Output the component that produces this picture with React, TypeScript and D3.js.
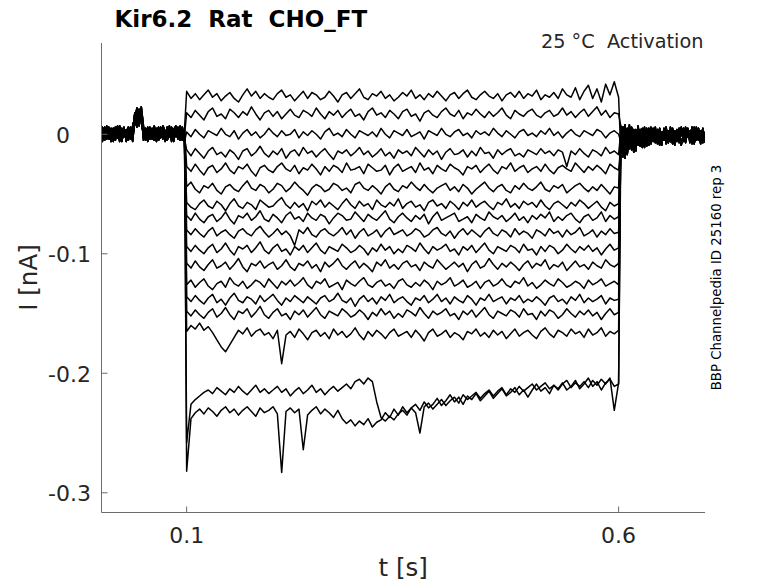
import React from 'react';
import * as d3 from 'd3';

// sampling intervals (s)
const HOLD_DT = 0.0025;
const STEP_DT = 0.005;
const STEP_ON = 0.1;
const STEP_OFF = 0.6;

// holding current before the step, pA (test pulse around 40-48 ms)
const holdPreA = [3, -4, 6, -2, 1, -6, 5, 0, -3, 7, -5, 2, -1, 6, -4, 3, 18, 8, 21, 12, -2, 5, -6, 3, -3, 7, -1, -5, 4, 0, -4, 6, -2, 3, -6, 5, -1, 2, -5, 4];
const holdPreB = [-5, 2, -1, 7, -4, 4, -3, 6, 1, -6, 5, -2, 4, -5, 6, -1, 9, 20, 7, 17, 4, -3, 6, -1, 5, -5, 2, 6, -3, 4, -6, 1, 7, -4, 2, -2, 6, -5, 3, -1];
const holdPreC = [1, 6, -5, 3, -2, 5, -6, 2, 7, -3, 0, 6, -6, 1, -2, 7, 14, 22, 10, 19, -5, 1, 4, -4, 0, 3, -6, 2, -2, 7, 3, -5, 0, 6, -3, 1, -4, 7, 0, -6];
const holdPreD = [-2, -6, 4, -4, 6, -1, 2, -5, 5, -1, -6, 4, 1, -3, 3, -6, 12, 6, 16, 23, 7, -5, 2, 6, -4, 1, 5, -3, 6, -4, 2, -2, 5, -6, 4, 7, -3, 3, 6, -4];

// holding current after the step, pA
const holdPostA = [-14, 6, -18, 3, -12, 5, -15, 2, -9, 4, -11, 3, -7, 5, -8, 1, -6, 4, -9, 2, -5, 6, -7, 1, -8, 3, -4, 5, -9, 0, -6, 4, -3, 6, -8, 2, -5, 3, -7, 1];
const holdPostB = [7, -19, 4, -16, 8, -13, 1, -12, 6, -10, 2, -8, 5, -9, 3, -6, 6, -7, 0, -5, 4, -8, 2, -6, 5, -3, 1, -7, 4, -5, 6, -2, 3, -8, 1, -4, 5, -6, 2, -3];
const holdPostC = [-6, 3, -20, 5, -9, -1, 4, -14, 7, -5, -2, 6, -10, 2, -4, 5, -7, 3, -2, -9, 5, -1, 3, -6, 2, -9, 4, -2, 6, -6, 0, 5, -7, 2, -4, 6, -1, -8, 4, -2];
const holdPostD = [2, -11, 8, -17, 0, 6, -13, 4, -7, 2, 5, -11, 0, -5, 6, -3, 2, -8, 5, -4, -1, 3, -7, 6, -2, 1, -6, 4, -1, 5, -7, 3, -4, 0, 6, -5, 2, -2, 5, -7];

// current during the voltage step (0.1 - 0.6 s), pA, one array per sweep
const sweep01 = [36, 30, 34, 29, 33, 37, 31, 34, 28, 32, 35, 30, 27, 33, 38, 32, 36, 30, 34, 31, 29, 34, 37, 31, 33, 28, 32, 36, 30, 35, 33, 29, 31, 36, 32, 27, 33, 35, 30, 34, 38, 31, 29, 34, 32, 36, 30, 33, 28, 31, 35, 32, 37, 30, 33, 29, 34, 31, 36, 32, 28, 33, 35, 30, 34, 37, 31, 29, 33, 36, 32, 30, 34, 28, 33, 35, 31, 36, 30, 34, 32, 37, 29, 33, 31, 35, 30, 38, 33, 31, 39, 29, 36, 41, 30, 38, 27, 42, 33, 44, 31];
const sweep02 = [18, 14, 20, 16, 12, 19, 22, 15, 17, 13, 21, 18, 14, 19, 16, 23, 17, 12, 18, 20, 15, 19, 13, 17, 21, 16, 14, 20, 18, 15, 22, 17, 13, 19, 16, 20, 14, 18, 21, 15, 17, 12, 19, 22, 16, 18, 14, 20, 17, 13, 19, 21, 15, 17, 11, 18, 20, 16, 14, 19, 22, 17, 15, 20, 13, 18, 16, 21, 17, 14, 19, 15, 18, 22, 16, 13, 20, 17, 15, 19, 21, 16, 14, 18, 20, 15, 17, 22, 16, 19, 14, 18, 21, 15, 19, 23, 16, 20, 14, 18, 17];
const sweep03 = [2, -2, 4, 0, -3, 3, 1, -1, 5, 0, -2, 3, -4, 1, 4, -1, 2, -3, 0, 5, 1, -2, 3, -1, 0, 4, -3, 2, -1, 3, 0, -4, 2, 5, -1, 1, -2, 4, 0, -3, 3, 1, -1, 2, -2, 5, 0, -3, 3, 1, -1, 4, -2, 0, 2, -4, 3, 1, -1, 5, 0, -2, 2, 4, -1, 1, -3, 3, 0, 2, -1, 5, 1, -2, 3, 0, -3, 2, 4, -1, 1, -2, 3, 0, 5, -1, 2, -3, 1, 4, 0, -2, 3, 1, -1, 4, 2, -3, 1, 3, 0];
const sweep04 = [-13, -18, -12, -16, -20, -14, -11, -17, -15, -19, -13, -16, -21, -14, -12, -18, -15, -10, -16, -19, -14, -17, -12, -20, -15, -13, -18, -11, -16, -14, -19, -15, -12, -17, -21, -14, -16, -13, -18, -15, -11, -17, -14, -19, -16, -12, -18, -15, -20, -13, -16, -14, -18, -11, -15, -19, -13, -17, -14, -21, -15, -12, -17, -16, -13, -19, -14, -18, -11, -16, -15, -20, -13, -17, -14, -12, -18, -16, -19, -13, -15, -17, -12, -16, -14, -18, -13, -15, -27, -14, -17, -12, -16, -19, -13, -15, -18, -11, -16, -14, -17];
const sweep05 = [-27, -31, -25, -30, -34, -28, -26, -32, -29, -24, -30, -33, -27, -29, -25, -31, -35, -28, -26, -30, -32, -27, -24, -29, -31, -26, -33, -28, -30, -25, -29, -34, -27, -31, -26, -28, -32, -24, -30, -29, -27, -33, -25, -28, -31, -30, -26, -34, -28, -25, -31, -29, -27, -32, -24, -30, -28, -33, -26, -29, -31, -25, -28, -30, -34, -27, -29, -26, -32, -28, -25, -30, -33, -27, -29, -24, -31, -28, -26, -32, -29, -27, -31, -25, -30, -33, -28, -26, -29, -31, -24, -28, -32, -27, -30, -26, -29, -33, -25, -28, -30];
const sweep06 = [-44, -40, -46, -49, -43, -45, -41, -47, -50, -44, -42, -46, -48, -43, -39, -45, -47, -42, -44, -49, -46, -41, -43, -48, -45, -40, -44, -47, -51, -45, -42, -44, -48, -46, -41, -43, -47, -45, -49, -42, -40, -45, -47, -43, -46, -50, -44, -41, -46, -48, -43, -45, -40, -44, -47, -42, -46, -49, -45, -43, -41, -47, -44, -48, -42, -45, -50, -46, -43, -40, -45, -48, -44, -42, -47, -49, -43, -46, -41, -45, -47, -44, -40, -46, -48, -43, -45, -42, -49, -46, -43, -41, -45, -48, -44, -47, -42, -46, -50, -44, -45];
const sweep07 = [-57, -61, -63, -58, -55, -60, -62, -56, -59, -64, -58, -54, -60, -62, -57, -59, -63, -55, -58, -61, -60, -56, -53, -59, -62, -57, -61, -58, -64, -56, -59, -55, -61, -57, -60, -63, -58, -54, -59, -62, -56, -60, -58, -63, -55, -59, -61, -57, -60, -54, -62, -58, -56, -61, -59, -64, -57, -55, -60, -58, -62, -56, -59, -63, -57, -60, -55, -61, -58, -56, -60, -63, -57, -59, -54, -61, -58, -62, -56, -59, -57, -61, -55, -60, -63, -58, -56, -59, -62, -57, -60, -55, -58, -62, -59, -56, -61, -64, -57, -60, -58];
const sweep08 = [-68, -72, -66, -71, -74, -69, -67, -73, -70, -65, -71, -75, -68, -70, -66, -72, -69, -64, -71, -73, -67, -70, -74, -68, -65, -71, -69, -73, -66, -70, -72, -67, -69, -75, -70, -66, -68, -72, -71, -65, -69, -73, -67, -70, -72, -68, -64, -71, -74, -69, -66, -70, -73, -68, -71, -67, -75, -69, -65, -72, -70, -68, -66, -73, -71, -69, -74, -67, -70, -72, -65, -69, -71, -68, -73, -70, -66, -72, -69, -74, -68, -71, -67, -70, -65, -73, -69, -72, -68, -66, -71, -74, -69, -67, -72, -70, -65, -73, -68, -71, -69];
const sweep09 = [-80, -84, -79, -83, -86, -81, -78, -85, -82, -80, -84, -87, -81, -79, -83, -85, -80, -77, -82, -86, -83, -79, -84, -81, -85, -93, -80, -83, -78, -84, -86, -81, -79, -83, -85, -82, -78, -84, -80, -87, -82, -79, -85, -83, -80, -86, -81, -78, -84, -82, -80, -85, -83, -79, -81, -86, -84, -80, -78, -83, -85, -81, -87, -82, -79, -84, -80, -83, -86, -81, -78, -83, -85, -80, -82, -86, -79, -84, -81, -83, -87, -80, -82, -85, -79, -83, -81, -86, -80, -84, -82, -78, -85, -83, -80, -86, -81, -84, -79, -83, -82];
const sweep10 = [-94, -98, -93, -97, -100, -95, -92, -99, -96, -91, -97, -101, -94, -96, -93, -99, -95, -90, -97, -100, -95, -92, -98, -96, -101, -94, -97, -93, -99, -95, -91, -97, -100, -94, -96, -98, -92, -95, -99, -97, -93, -96, -101, -95, -98, -92, -97, -94, -100, -96, -99, -93, -95, -98, -91, -96, -100, -94, -97, -95, -92, -98, -96, -101, -94, -97, -93, -99, -95, -91, -97, -100, -94, -96, -98, -93, -95, -99, -92, -97, -96, -101, -94, -98, -93, -95, -100, -97, -92, -96, -99, -94, -97, -93, -98, -95, -101, -96, -92, -97, -95];
const sweep11 = [-108, -112, -106, -111, -114, -109, -105, -112, -110, -107, -113, -109, -104, -111, -115, -108, -110, -106, -112, -109, -107, -113, -110, -105, -111, -114, -108, -110, -106, -112, -109, -115, -107, -111, -108, -104, -110, -113, -109, -106, -112, -108, -111, -115, -107, -110, -105, -112, -109, -113, -108, -106, -111, -109, -114, -107, -110, -112, -105, -109, -113, -110, -107, -111, -108, -115, -109, -106, -112, -110, -104, -109, -113, -108, -111, -107, -110, -114, -109, -106, -112, -108, -110, -105, -113, -109, -111, -107, -114, -110, -106, -111, -109, -113, -107, -110, -112, -105, -109, -111, -108];
const sweep12 = [-126, -122, -128, -124, -121, -127, -130, -125, -123, -128, -120, -125, -127, -123, -129, -126, -122, -124, -128, -121, -125, -129, -123, -126, -122, -127, -124, -120, -126, -129, -123, -125, -121, -128, -126, -124, -130, -122, -125, -127, -123, -120, -126, -128, -124, -122, -127, -125, -129, -123, -121, -126, -128, -124, -127, -122, -125, -130, -123, -126, -124, -120, -127, -125, -122, -128, -126, -123, -129, -124, -122, -127, -125, -121, -126, -128, -123, -125, -120, -127, -124, -129, -126, -122, -125, -127, -121, -124, -128, -126, -123, -125, -129, -122, -126, -124, -121, -127, -125, -123, -126];
const sweep13 = [-136, -140, -135, -139, -142, -137, -134, -141, -138, -143, -137, -133, -139, -141, -136, -138, -142, -135, -140, -137, -134, -139, -143, -137, -140, -135, -138, -141, -136, -139, -142, -137, -135, -140, -138, -133, -139, -141, -137, -144, -138, -135, -140, -137, -142, -136, -139, -134, -141, -138, -136, -140, -143, -137, -139, -135, -141, -138, -134, -140, -137, -142, -136, -139, -141, -135, -138, -143, -137, -139, -134, -140, -138, -136, -142, -137, -139, -135, -141, -138, -140, -136, -139, -143, -137, -135, -140, -138, -142, -136, -139, -134, -141, -137, -140, -138, -135, -142, -137, -139, -138];
const sweep14 = [-148, -152, -147, -151, -154, -149, -146, -153, -150, -145, -151, -155, -148, -150, -146, -153, -149, -144, -151, -154, -149, -146, -152, -150, -155, -148, -151, -147, -153, -149, -145, -151, -154, -148, -150, -152, -146, -149, -153, -151, -147, -150, -155, -149, -152, -146, -151, -148, -154, -150, -153, -147, -149, -152, -145, -150, -154, -148, -151, -149, -146, -152, -150, -155, -148, -151, -147, -153, -149, -145, -151, -154, -148, -150, -152, -147, -149, -153, -146, -151, -150, -155, -148, -152, -147, -149, -154, -151, -146, -150, -153, -148, -151, -147, -152, -149, -155, -150, -146, -151, -149];
const sweep15 = [-165, -160, -163, -158, -164, -161, -166, -172, -178, -182, -176, -170, -164, -167, -162, -169, -165, -163, -168, -166, -171, -164, -192, -168, -165, -170, -163, -167, -172, -166, -164, -169, -166, -171, -163, -168, -165, -170, -167, -162, -168, -172, -165, -169, -164, -167, -171, -166, -163, -169, -167, -165, -170, -164, -168, -173, -166, -163, -169, -167, -164, -170, -166, -168, -172, -165, -167, -163, -169, -166, -170, -164, -168, -165, -171, -167, -163, -169, -166, -164, -168, -171, -165, -162, -167, -170, -164, -166, -169, -163, -167, -165, -170, -163, -168, -166, -162, -169, -165, -167, -164];
const sweep16 = [-258, -226, -222, -219, -216, -214, -217, -212, -215, -218, -213, -216, -211, -215, -218, -214, -210, -216, -213, -217, -214, -211, -216, -213, -219, -215, -212, -217, -214, -210, -216, -213, -218, -214, -211, -215, -212, -209, -213, -207, -205, -209, -204, -207, -224, -237, -240, -236, -239, -234, -231, -235, -229, -233, -250, -228, -225, -230, -226, -222, -227, -223, -220, -225, -218, -222, -219, -216, -221, -217, -214, -219, -215, -212, -218, -213, -216, -211, -215, -212, -209, -214, -211, -208, -213, -210, -214, -209, -206, -212, -208, -211, -207, -212, -206, -210, -205, -209, -204, -231, -208];
const sweep17 = [-282, -238, -233, -230, -234, -229, -232, -236, -231, -228, -233, -230, -235, -231, -228, -232, -236, -229, -233, -231, -228, -234, -283, -232, -229, -233, -230, -264, -235, -231, -228, -234, -230, -233, -237, -231, -238, -242, -239, -244, -240, -243, -238, -245, -241, -239, -233, -237, -230, -235, -228, -233, -229, -226, -231, -224, -229, -226, -221, -227, -223, -218, -224, -220, -226, -219, -222, -217, -223, -219, -215, -221, -217, -213, -219, -216, -212, -218, -214, -220, -214, -209, -215, -212, -217, -210, -213, -208, -214, -211, -206, -213, -209, -204, -211, -207, -214, -208, -205, -211, -209];

const holdPre = [holdPreA, holdPreB, holdPreC, holdPreD];
const holdPost = [holdPostA, holdPostB, holdPostC, holdPostD];
const sweeps = [sweep01, sweep02, sweep03, sweep04, sweep05, sweep06, sweep07, sweep08, sweep09, sweep10, sweep11, sweep12, sweep13, sweep14, sweep15, sweep16, sweep17];

const xTicks = [0.1, 0.6];
const xTickLabels = ['0.1', '0.6'];
const yTicks = [0, -100, -200, -300];
const yTickLabels = ['0', '-0.1', '-0.2', '-0.3'];

const FONT = '"DejaVu Sans", sans-serif';
const AXIS = '#6b6b6b';
const TEXT = '#262626';

const App: React.FC = () => {
  const width = 778;
  const height = 583;
  const left = 101.3, right = 705, top = 43, bottom = 512;

  const x = d3.scaleLinear().domain([0.0012, 0.7]).range([left, right]);
  const y = d3.scaleLinear().domain([-316.1, 76.4]).range([bottom, top]);

  const preT = d3.range(holdPreA.length).map(j => j * HOLD_DT);
  const stepT = d3.range(sweep01.length).map(i => STEP_ON + i * STEP_DT);
  const postT = d3.range(holdPostA.length).map(j => STEP_OFF + (j + 1) * HOLD_DT);

  const line = d3.line<[number, number]>()
    .x(d => x(d[0]))
    .y(d => y(d[1]));

  const paths = sweeps.map((s, k) => {
    const pre = holdPre[k % 4];
    const post = holdPost[k % 4];
    const pts: [number, number][] = [
      ...pre.map((v, j) => [preT[j], v] as [number, number]),
      ...s.map((v, i) => [stepT[i], v] as [number, number]),
      ...post.map((v, j) => [postT[j], v] as [number, number]),
    ];
    return line(pts) || '';
  });

  const ax = Math.round(left) + 0.5;
  const ay = Math.round(bottom) + 0.5;

  return (
    <svg width={width} height={height} style={{ position: 'absolute', left: 0, top: 0, background: '#fff' }}>
      <defs>
        <clipPath id="plot">
          <rect x={ax} y={top} width={right - ax} height={ay - top} />
        </clipPath>
      </defs>
      <rect x={0} y={0} width={width} height={height} fill="#fff" />

      <g clipPath="url(#plot)">
        {paths.map((d, k) => (
          <path key={k} d={d} fill="none" stroke="#000" strokeWidth={1.5} strokeLinejoin="round" />
        ))}
      </g>

      {/* axes */}
      <line x1={ax} x2={ax} y1={top} y2={ay} stroke={AXIS} strokeWidth={1} />
      <line x1={ax} x2={right} y1={ay} y2={ay} stroke={AXIS} strokeWidth={1} />

      {yTicks.map((t, i) => {
        const ty = y(t);
        return (
          <g key={'y' + i}>
            <line x1={ax} x2={ax + 6} y1={ty} y2={ty} stroke={AXIS} strokeWidth={1} />
            <text x={yTickLabels[i].startsWith('-') ? 48 : 56} y={ty + 8.3} fontFamily={FONT} fontSize={22} fill={TEXT}>
              {yTickLabels[i]}
            </text>
          </g>
        );
      })}
      {xTicks.map((t, i) => {
        const tx = x(t);
        return (
          <g key={'x' + i}>
            <line x1={tx} x2={tx} y1={ay} y2={ay - 6} stroke={AXIS} strokeWidth={1} />
            <text x={tx} y={542.5} textAnchor="middle" fontFamily={FONT} fontSize={22} fill={TEXT}>
              {xTickLabels[i]}
            </text>
          </g>
        );
      })}

      {/* labels */}
      <text x={(left + right) / 2} y={576} textAnchor="middle" fontFamily={FONT} fontSize={24.5} fill={TEXT}>
        t [s]
      </text>
      <text transform={`translate(37,${(top + bottom) / 2}) rotate(-90)`} textAnchor="middle" fontFamily={FONT} fontSize={24.5} fill={TEXT}>
        I [nA]
      </text>
      <text x={114.5} y={26.5} fontFamily={FONT} fontSize={23} fontWeight="bold" fill="#000" style={{ whiteSpace: 'pre' }}>
        {'Kir6.2  Rat  CHO_FT'}
      </text>
      <text x={703.5} y={47.5} textAnchor="end" fontFamily={FONT} fontSize={19.3} fill={TEXT} style={{ whiteSpace: 'pre' }}>
        {'25 °C  Activation'}
      </text>
      <text transform={`translate(720.8,${(top + bottom) / 2}) rotate(-90)`} textAnchor="middle" fontFamily={FONT} fontSize={13.3} fill="#000">
        BBP Channelpedia ID 25160 rep 3
      </text>
    </svg>
  );
};

export default App;
